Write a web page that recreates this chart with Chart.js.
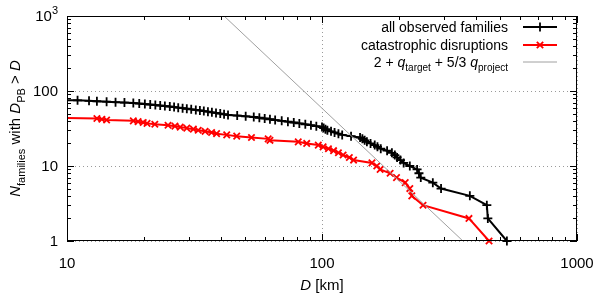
<!DOCTYPE html>
<html>
<head>
<meta charset="utf-8">
<script src="https://cdn.jsdelivr.net/npm/chart.js@4.4.1/dist/chart.umd.min.js"></script>
<style>
	html, body { margin: 0; padding: 0; background: #fff; }
	#wrap { width: 600px; height: 297px; }
</style>
</head>
<body>
<div id="wrap"><canvas id="chart" width="600" height="297"></canvas></div>
<script>
// cumulative counts (D in km, N = families with D_PB > D)
const allD = [8.5, 11.0, 12.2, 13.1, 14.3, 15.5, 16.8, 18.2, 19.2, 20.2, 21.2, 22.2, 23.2, 24.2, 25.3,
	26.3, 27.3, 28.4, 29.5, 30.7, 32.0, 33.2, 34.4, 35.7, 37.0, 38.4, 39.9, 41.3, 42.8, 46.5, 50.2,
	54.0, 56.8, 59.6, 62.5, 65.5, 69.5, 73.5, 77.5, 81.5, 86.0, 90.5, 95.0, 100, 101.5, 103.2, 105,
	108.5, 112, 116, 120, 130, 141, 144, 147, 150, 155, 161, 165, 170, 180, 188, 193, 197, 203, 209,
	221, 236, 240, 244, 272, 293, 380, 443, 447, 531];
const allN = [76, 75, 74, 73, 72, 71, 70, 69, 68, 67, 66, 65, 64, 63, 62, 61, 60, 59, 58, 57, 56, 55,
	54, 53, 52, 51, 50, 49, 48, 47, 46, 45, 44, 43, 42, 41, 40, 39, 38, 37, 36, 35, 34, 33, 32, 31, 30,
	29, 28, 27, 26, 25, 24, 23, 22, 21, 20, 19, 18, 17, 16, 15, 14, 13, 12, 11, 10, 9, 8, 7, 6, 5, 4,
	3, 2, 1];

const catD = [8.0, 13.1, 13.7, 14.3, 18.2, 19.0, 19.9, 20.6, 22.1, 24.9, 26.5, 27.8, 29.5, 31.3, 32.7,
	34.8, 36.9, 38.6, 42.3, 46.3, 52.9, 61.5, 62.5, 80.7, 87.1, 96.7, 101, 106, 111, 116, 121, 128, 133,
	157, 164, 169, 185, 196, 212, 221, 225, 249, 377, 452];
const catN = [44, 43, 42, 41, 40, 39, 38, 37, 36, 35, 34, 33, 32, 31, 30, 29, 28, 27, 26, 25, 24, 23,
	22, 21, 20, 19, 18, 17, 16, 15, 14, 13, 12, 11, 10, 9, 8, 7, 6, 5, 4, 3, 2, 1];

// power law 2 + q_target + 5/3 q_project, two ends
const lawD = [41.3, 357];
const lawN = [1000, 1];

const xTicks = [10, 100, 1000];
const yTicks = [1, 10, 100, 1000];

const FONT = '"Liberation Sans", Arial, Helvetica, sans-serif';

function pts(xs, ys) {
	return xs.map((x, i) => ({ x: x, y: ys[i] }));
}

// draw text made of runs: { t, i (italic), sub, sup }
function runFont(r, size) {
	const s = (r.sub || r.sup) ? Math.round(size * 0.72) : size;
	return (r.i ? 'italic ' : '') + s + 'px ' + FONT;
}
function runsWidth(ctx, runs, size) {
	let w = 0;
	runs.forEach((r) => { ctx.font = runFont(r, size); w += ctx.measureText(r.t).width; });
	return w;
}
function drawRuns(ctx, runs, x, y, size, align) {
	const w = runsWidth(ctx, runs, size);
	let cx = x;
	if (align == 'center') { cx = x - w / 2; }
	else if (align == 'right') { cx = x - w; }
	ctx.textAlign = 'left';
	ctx.textBaseline = 'alphabetic';
	runs.forEach((r) => {
		ctx.font = runFont(r, size);
		let dy = 0;
		if (r.sub) { dy = size * 0.3; }
		if (r.sup) { dy = -size * 0.45; }
		ctx.fillText(r.t, cx, y + dy);
		cx += ctx.measureText(r.t).width;
	});
}

function minorValues(min, max) {
	const out = [];
	for (let d = min; d < max; d *= 10) {
		for (let k = 2; k <= 9; k++) { out.push(d * k); }
	}
	return out;
}

const frame = {
	id: 'frame',
	afterDatasetsDraw(chart) {
		const ctx = chart.ctx;
		const a = chart.chartArea;
		const xs = chart.scales.x;
		const ys = chart.scales.y;
		ctx.save();
		ctx.strokeStyle = '#000';
		ctx.lineWidth = 1;
		// border
		ctx.strokeRect(Math.round(a.left) + 0.5, Math.round(a.top) + 0.5,
			Math.round(a.right - a.left) - 1, Math.round(a.bottom - a.top) - 1);
		// tick marks, inward, mirrored
		ctx.beginPath();
		const tick = (v, len, axis) => {
			if (axis == 'x') {
				const px = Math.round(xs.getPixelForValue(v)) + 0.5;
				ctx.moveTo(px, a.bottom); ctx.lineTo(px, a.bottom - len);
				ctx.moveTo(px, a.top); ctx.lineTo(px, a.top + len);
			} else {
				const py = Math.round(ys.getPixelForValue(v)) + 0.5;
				ctx.moveTo(a.left, py); ctx.lineTo(a.left + len, py);
				ctx.moveTo(a.right, py); ctx.lineTo(a.right - len, py);
			}
		};
		xTicks.forEach((v) => tick(v, 7, 'x'));
		minorValues(10, 1000).forEach((v) => tick(v, 4, 'x'));
		yTicks.forEach((v) => tick(v, 7, 'y'));
		minorValues(1, 1000).forEach((v) => tick(v, 4, 'y'));
		ctx.stroke();

		// tick labels
		ctx.fillStyle = '#000';
		ctx.font = '15px ' + FONT;
		ctx.textAlign = 'center';
		ctx.textBaseline = 'alphabetic';
		xTicks.forEach((v) => {
			ctx.fillText(String(v), xs.getPixelForValue(v), 268);
		});
		yTicks.forEach((v) => {
			const py = ys.getPixelForValue(v) + 5;
			if (v == 1000) {
				drawRuns(ctx, [{ t: '10' }, { t: '3', sup: true }], 58, py, 15, 'right');
			} else {
				ctx.textAlign = 'right';
				ctx.font = '15px ' + FONT;
				ctx.fillText(String(v), 58, py);
			}
		});

		// axis titles
		drawRuns(ctx, [{ t: 'D', i: true }, { t: ' [km]' }], (a.left + a.right) / 2, 290, 15, 'center');
		ctx.save();
		ctx.translate(20, (a.top + a.bottom) / 2);
		ctx.rotate(-Math.PI / 2);
		drawRuns(ctx, [{ t: 'N', i: true }, { t: 'families', sub: true }, { t: ' with ' },
			{ t: 'D', i: true }, { t: 'PB', sub: true }, { t: ' > ' }, { t: 'D', i: true }], 0, 0, 15, 'center');
		ctx.restore();

		// key, top right
		const keyX = 508;
		const rows = [
			{ runs: [{ t: 'all observed families' }], color: '#000', width: 2, marker: 'cross', y: 32 },
			{ runs: [{ t: 'catastrophic disruptions' }], color: '#ff0000', width: 2, marker: 'crossRot', y: 50 },
			{ runs: [{ t: '2 + ' }, { t: 'q', i: true }, { t: 'target', sub: true }, { t: ' + 5/3 ' },
				{ t: 'q', i: true }, { t: 'project', sub: true }], color: '#a0a0a0', width: 1, marker: null, y: 67 }
		];
		rows.forEach((row) => {
			ctx.fillStyle = '#000';
			drawRuns(ctx, row.runs, keyX, row.y, 14, 'right');
			const ly = row.y - 5;
			ctx.strokeStyle = row.color;
			ctx.lineWidth = row.width;
			ctx.beginPath();
			ctx.moveTo(523, ly); ctx.lineTo(557, ly);
			ctx.stroke();
			if (row.marker) {
				ctx.lineWidth = 1.8;
				Chart.helpers.drawPoint(ctx, { pointStyle: row.marker, radius: 4.5, borderWidth: 1.8,
					rotation: 0 }, 540, ly);
			}
		});
		ctx.restore();
	}
};

const onlyDecades = (list) => (scale) => {
	scale.ticks = list.map((v) => ({ value: v }));
};

new Chart(document.getElementById('chart'), {
	type: 'scatter',
	data: {
		datasets: [
			{
				label: '2 + q_target + 5/3 q_project',
				data: pts(lawD, lawN),
				showLine: true,
				borderColor: '#a0a0a0',
				borderWidth: 1,
				pointRadius: 0,
				order: 0
			},
			{
				label: 'catastrophic disruptions',
				data: pts(catD, catN),
				showLine: true,
				borderColor: '#ff0000',
				backgroundColor: '#ff0000',
				borderWidth: 2,
				pointStyle: 'crossRot',
				pointRadius: 4.5,
				pointBorderWidth: 1.8,
				clip: { left: 0, top: 0, right: 10, bottom: 10 },
				order: 1
			},
			{
				label: 'all observed families',
				data: pts(allD, allN),
				showLine: true,
				borderColor: '#000',
				backgroundColor: '#000',
				borderWidth: 2,
				pointStyle: 'cross',
				pointRadius: 4.5,
				pointBorderWidth: 1.8,
				clip: { left: 0, top: 0, right: 10, bottom: 10 },
				order: 2
			}
		]
	},
	options: {
		responsive: false,
		animation: false,
		devicePixelRatio: 1,
		layout: { padding: { left: 67, right: 23, top: 16, bottom: 56 } },
		plugins: {
			legend: { display: false },
			tooltip: { enabled: false }
		},
		scales: {
			x: {
				type: 'logarithmic',
				min: 10,
				max: 1000,
				afterBuildTicks: onlyDecades(xTicks),
				ticks: { display: false },
				grid: { color: '#9a9a9a', lineWidth: 1, drawTicks: false },
				border: { display: false, dash: [1, 3] }
			},
			y: {
				type: 'logarithmic',
				min: 1,
				max: 1000,
				afterBuildTicks: onlyDecades(yTicks),
				ticks: { display: false },
				grid: { color: '#9a9a9a', lineWidth: 1, drawTicks: false },
				border: { display: false, dash: [1, 3] }
			}
		}
	},
	plugins: [frame]
});
</script>
</body>
</html>
